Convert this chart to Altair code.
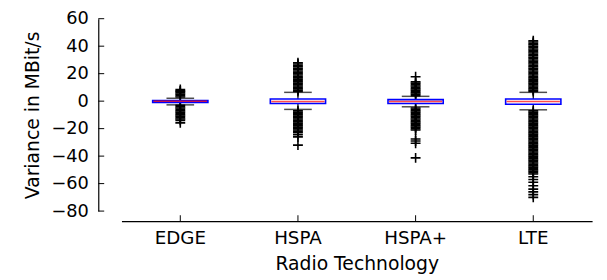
import altair as alt
import pandas as pd

# ---- data ----
techs = ["EDGE", "HSPA", "HSPA+", "LTE"]
q1 = [-0.9, -1.7, -1.7, -2.2]
median = [-0.1, -0.3, -0.3, -0.3]
q3 = [0.5, 1.6, 1.1, 1.6]
whisker_lo = [-2.7, -6.0, -4.1, -6.3]
whisker_hi = [2.1, 6.4, 3.5, 6.4]

fliers_edge = [8.5, 7.5, 7, 6, 5, 4, 3,
               -3, -4, -5, -6, -7, -8, -9, -10, -11, -12, -13, -14, -15.8]
fliers_hspa = [7, 8, 9, 10, 11, 12, 13, 14, 15, 16, 17, 18, 19, 20, 21, 22, 23, 24, 25, 26, 27, 28,
               -7, -8, -9, -10, -11, -12, -13, -14, -15, -16, -17, -18, -19, -20, -21, -22, -23,
               -24.5, -26, -32]
fliers_hspap = [4, 5, 6, 7, 8, 9, 10, 11, 12, 13, 14, 17.8,
                -5, -6, -7, -8, -9, -10, -11, -12, -13, -14, -15, -16, -17, -18, -19, -20, -21,
                -27.5, -29, -30.6, -41.3]
fliers_lte = [7, 8, 9, 10, 11, 12, 13, 14, 15, 16, 17, 18, 19, 20, 21, 22, 23, 24, 25, 26, 27, 28,
              29, 30, 31, 32, 33, 34, 35, 36, 37, 38, 39, 40, 41, 42, 43, 44,
              -7, -8, -9, -10, -11, -12, -13, -14, -15, -16, -17, -18, -19, -20, -21, -22, -23,
              -24, -25, -26, -27, -28, -29, -30, -31, -32, -33, -34, -35, -36, -37, -38, -39,
              -40, -41, -42, -43, -44, -45, -46, -47, -48, -49, -50, -51, -52, -53,
              -55, -57, -59, -61.5, -64, -66, -68, -70]

y_ticks = [60, 40, 20, 0, -20, -40, -60, -80]

# ---- tables ----
box_df = pd.DataFrame({"tech": techs, "q1": q1, "median": median, "q3": q3,
                       "lo": whisker_lo, "hi": whisker_hi})
fl_rows = []
for t, vals in zip(techs, [fliers_edge, fliers_hspa, fliers_hspap, fliers_lte]):
    for v in vals:
        fl_rows.append({"tech": t, "v": v})
fl_df = pd.DataFrame(fl_rows)
yt_df = pd.DataFrame({"v": y_ticks})
xt_df = pd.DataFrame({"tech": techs})

FONT = "DejaVu Sans"
W, H = 477, 195
Y_OFF = 23.5
X_OFF = 10.2

xscale = alt.Scale(domain=techs, paddingInner=0, paddingOuter=0)
yscale = alt.Scale(domain=[-80, 60], nice=False, zero=False)

x_axis = alt.Axis(title="Radio Technology", labelAngle=0, ticks=False, tickSize=0,
                  offset=X_OFF, labelPadding=8, titlePadding=7,
                  domainColor="black", domainWidth=1.2,
                  labelFont=FONT, titleFont=FONT, labelFontSize=18.5, titleFontSize=19,
                  labelColor="black", titleColor="black", titleFontWeight="normal",
                  grid=False)
y_axis = alt.Axis(title="Variance in MBit/s", values=y_ticks, ticks=False, tickSize=0,
                  offset=Y_OFF, labelPadding=10, titlePadding=9,
                  domainColor="black", domainWidth=1.2,
                  labelFont=FONT, titleFont=FONT, labelFontSize=18, titleFontSize=19,
                  labelColor="black", titleColor="black", titleFontWeight="normal",
                  grid=False)

X = alt.X("tech:N", scale=xscale, axis=x_axis, sort=techs)


def Y(field):
    return alt.Y(field, scale=yscale, axis=y_axis)


fliers = alt.Chart(fl_df).mark_point(
    shape="M-1,0L1,0M0,-1L0,1", size=100, filled=False, stroke="black",
    strokeWidth=1.6, opacity=1
).encode(x=X, y=Y("v:Q"))

whiskers = alt.Chart(box_df).mark_rule(color="black", strokeWidth=1.2).encode(
    x=X, y=Y("lo:Q"), y2="hi:Q")

cap_lo = alt.Chart(box_df).mark_tick(color="black", size=28, thickness=1.5).encode(
    x=X, y=Y("lo:Q"))
cap_hi = alt.Chart(box_df).mark_tick(color="black", size=28, thickness=1.5).encode(
    x=X, y=Y("hi:Q"))

boxes = alt.Chart(box_df).mark_bar(size=56, fill="white", stroke="blue", strokeWidth=1.6).encode(
    x=X, y=Y("q1:Q"), y2="q3:Q")

medians = alt.Chart(box_df).mark_tick(color="red", size=54, thickness=1.5).encode(
    x=X, y=Y("median:Q"))

yticks = alt.Chart(yt_df).mark_rule(color="black", strokeWidth=1).encode(
    y=Y("v:Q"),
    x=alt.value(-Y_OFF), x2=alt.value(-Y_OFF + 6))

xticks = alt.Chart(xt_df).mark_rule(color="black", strokeWidth=1).encode(
    x=X, y=alt.value(H + X_OFF), y2=alt.value(H + X_OFF - 6))

chart = alt.layer(fliers, whiskers, cap_lo, cap_hi, boxes, medians, yticks, xticks).properties(
    width=W, height=H,
    padding={"left": 115, "top": 9, "right": 7, "bottom": 68},
    autosize=alt.AutoSizeParams(type="none"),
    background="white",
).configure_view(stroke=None)

chart.save("out.html", embed_options={"renderer": "svg", "actions": False})
